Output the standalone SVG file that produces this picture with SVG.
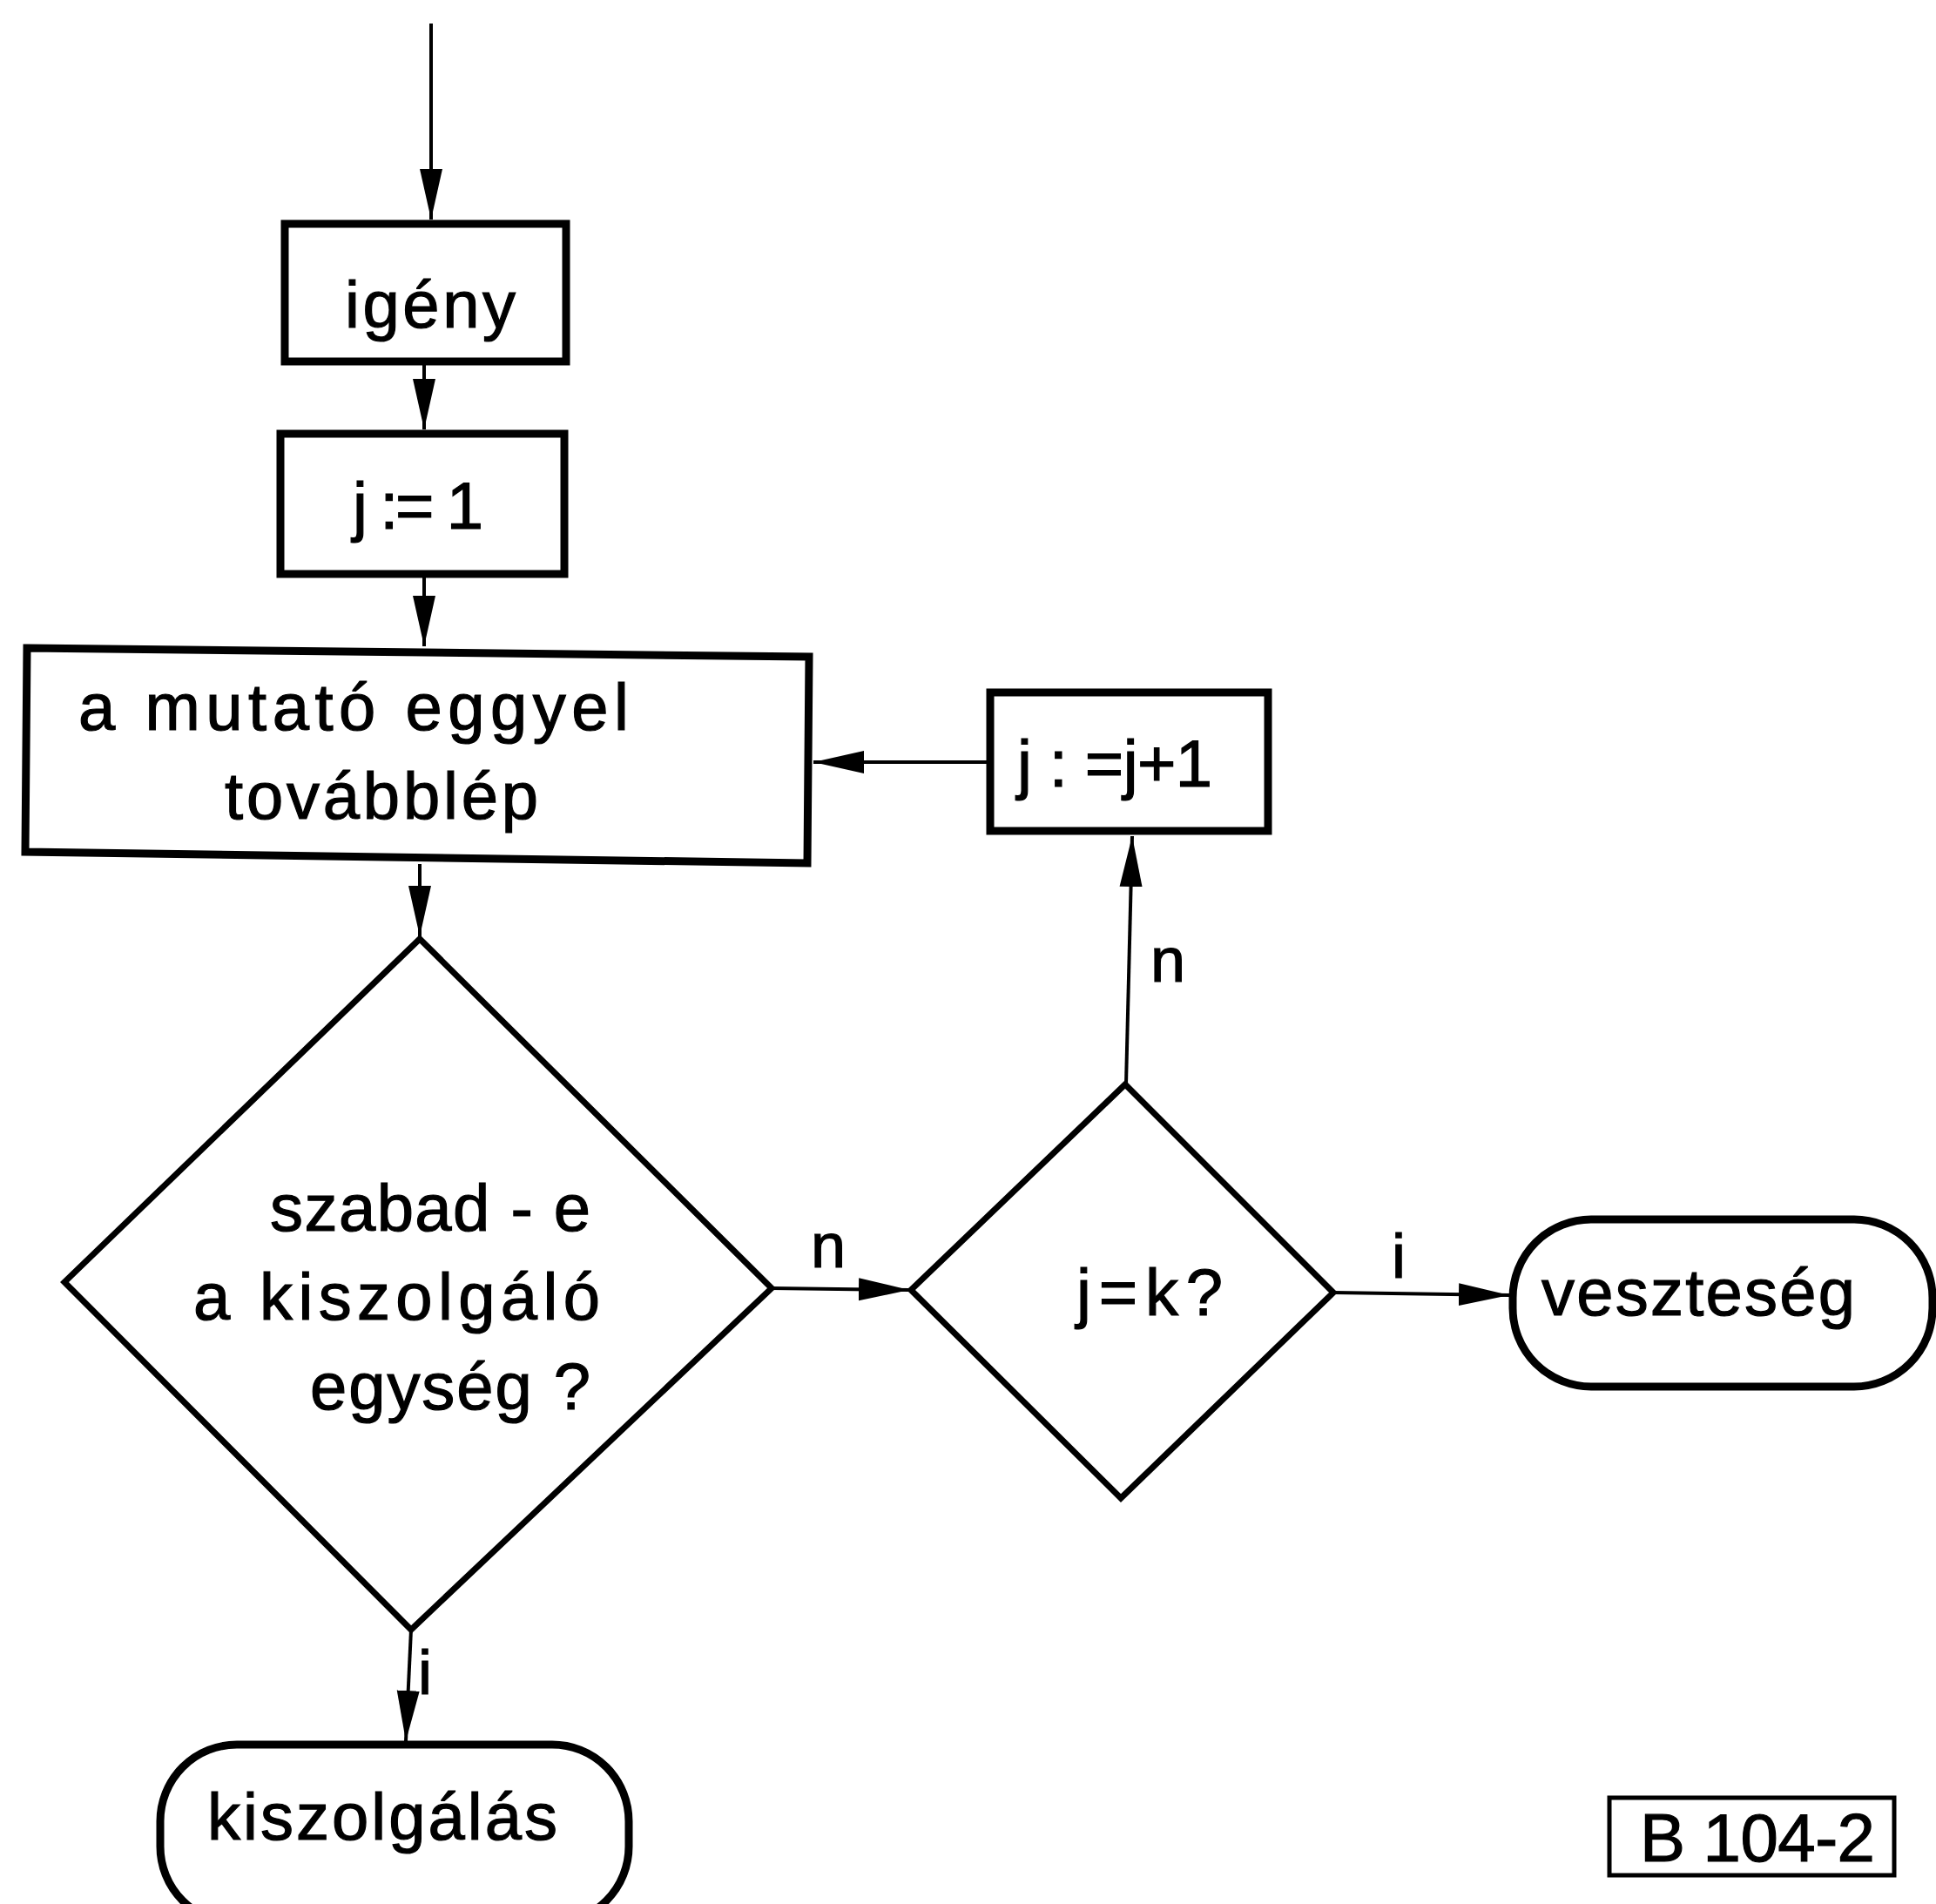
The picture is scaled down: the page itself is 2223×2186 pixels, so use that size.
<svg xmlns="http://www.w3.org/2000/svg" width="2223" height="2186" viewBox="0 0 2223 2186">
<style>
.box{fill:none;stroke:#000;stroke-width:9;stroke-linejoin:miter}
.dia{fill:none;stroke:#000;stroke-width:7;stroke-linejoin:miter}
.con{fill:none;stroke:#000;stroke-width:4}
.t{font-family:"Liberation Sans",Arial,sans-serif;font-size:76px;fill:#000;stroke:#000;stroke-width:1.2}
.lbl{font-family:"Liberation Sans",Arial,sans-serif;font-size:72px;fill:#000;stroke:#000;stroke-width:1.2}
</style>
<defs>
<marker id="ah" markerUnits="userSpaceOnUse" markerWidth="60" markerHeight="28" viewBox="0 0 60 28" refX="58" refY="14" orient="auto">
<path d="M0,1 L58,14 L0,27 Z" fill="#000"/>
</marker>
</defs>
<rect width="2223" height="2186" fill="#fff"/>
<g id="connectors">
<line class="con" x1="495" y1="27" x2="495" y2="252" marker-end="url(#ah)"/>
<line class="con" x1="487" y1="419" x2="487" y2="493" marker-end="url(#ah)"/>
<line class="con" x1="487" y1="663" x2="487" y2="742" marker-end="url(#ah)"/>
<line class="con" x1="1137" y1="875" x2="934" y2="875" marker-end="url(#ah)"/>
<line class="con" x1="482" y1="992" x2="482" y2="1075" marker-end="url(#ah)"/>
<line class="con" x1="886" y1="1479" x2="1044" y2="1481" marker-end="url(#ah)"/>
<line class="con" x1="1293" y1="1245" x2="1300" y2="960" marker-end="url(#ah)"/>
<line class="con" x1="1531" y1="1484" x2="1733" y2="1487" marker-end="url(#ah)"/>
<line class="con" x1="472" y1="1871" x2="466" y2="1999" marker-end="url(#ah)"/>
<text class="lbl" x="931" y="1455">n</text>
<text class="lbl" x="1321" y="1127">n</text>
<text class="lbl" x="1598" y="1467">i</text>
<text class="lbl" x="480" y="1945">i</text>
</g>
<g id="n-igeny">
<rect class="box" x="327" y="257" width="323" height="158"/>
<text class="t" x="396" y="376" textLength="196" lengthAdjust="spacing">igény</text>
</g>
<g id="n-j1">
<rect class="box" x="322" y="498" width="326" height="161"/>
<text class="t" x="405" y="607" textLength="150" lengthAdjust="spacing">j := 1</text>
</g>
<g id="n-mutato">
<path class="box" d="M31,744 L929,754 L927,991 L29,978 Z"/>
<text class="t" x="90" y="838" textLength="632" lengthAdjust="spacing">a  mutató eggyel</text>
<text class="t" x="258" y="940" textLength="360" lengthAdjust="spacing">továbblép</text>
</g>
<g id="n-jinc">
<rect class="box" x="1137" y="795" width="319" height="159"/>
<text class="t" x="1168" y="903" textLength="224" lengthAdjust="spacing">j : =j+1</text>
</g>
<g id="n-szabad">
<path class="dia" d="M482,1078 L886,1479 L472,1871 L74,1472 Z"/>
<text class="t" x="310" y="1413" textLength="368" lengthAdjust="spacing">szabad - e</text>
<text class="t" x="222" y="1515" textLength="467" lengthAdjust="spacing">a kiszolgáló</text>
<text class="t" x="356" y="1618" textLength="322" lengthAdjust="spacing">egység ?</text>
</g>
<g id="n-jk">
<path class="dia" d="M1292,1245 L1531,1484 L1287,1720 L1046,1481 Z"/>
<text class="t" x="1236" y="1510" textLength="168" lengthAdjust="spacing">j=k?</text>
</g>
<g id="n-veszteseg">
<rect class="box" x="1737" y="1400" width="482" height="192" rx="90" ry="90"/>
<text class="t" x="1770" y="1510" textLength="360" lengthAdjust="spacing">veszteség</text>
</g>
<g id="n-kiszolgalas">
<rect class="box" x="184" y="2003" width="538" height="205" rx="88" ry="88"/>
<text class="t" x="238" y="2112" textLength="402" lengthAdjust="spacing">kiszolgálás</text>
</g>
<g id="label-b104">
<rect x="1848" y="2064" width="327" height="89" fill="none" stroke="#000" stroke-width="5"/>
<text class="t" x="1883" y="2137" style="font-size:78px" textLength="270" lengthAdjust="spacing">B 104-2</text>
</g>
</svg>
